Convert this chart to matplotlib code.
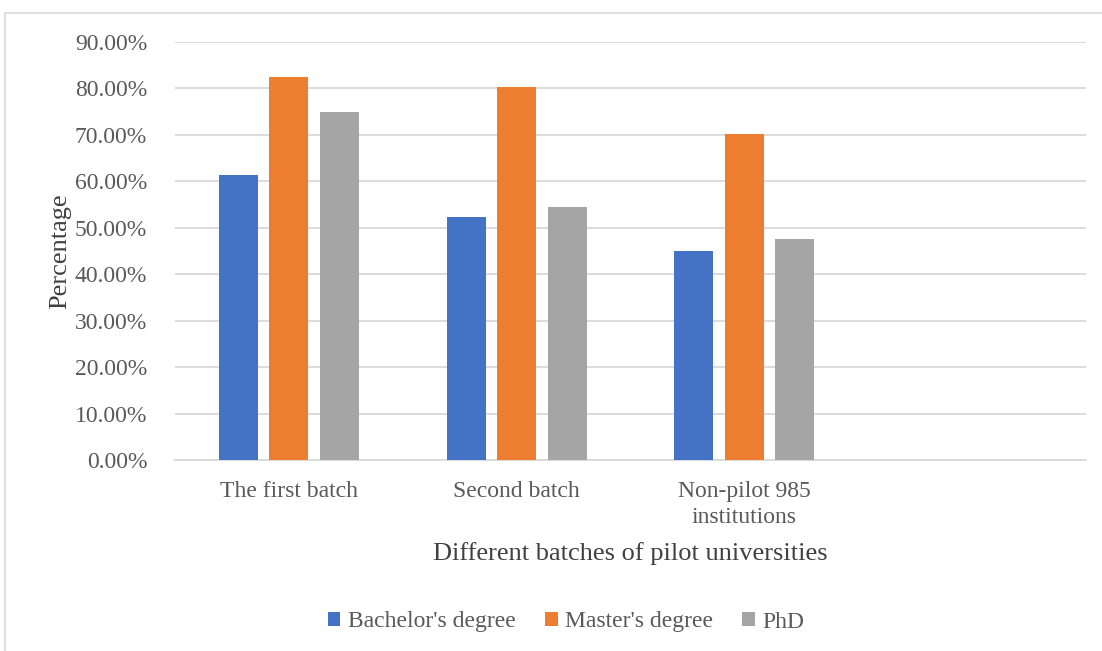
import matplotlib.pyplot as plt
import numpy as np
from matplotlib.lines import Line2D
from matplotlib.ticker import PercentFormatter

categories = ["The first batch", "Second batch", "Non-pilot 985\ninstitutions", ""]
bachelor = [61.3, 52.3, 44.9]
master = [82.5, 80.4, 70.1]
phd = [75.0, 54.4, 47.5]
series = ["Bachelor's degree", "Master's degree", "PhD"]
colors = ["#4472c4", "#ed7d31", "#a5a5a5"]

plt.rcParams['font.family'] = ['Liberation Serif', 'DejaVu Serif']

fig = plt.figure(figsize=(11.02, 6.51), dpi=100)
ax = fig.add_axes([175 / 1102, 191 / 651, (1086 - 175) / 1102, (460 - 42) / 651])

x = np.arange(3)
width = 0.171
step = 0.2215
for k, (name, vals, c) in enumerate(zip(series, [bachelor, master, phd], colors)):
    ax.bar(x + (k - 1) * step, vals, width, color=c, label=name, zorder=3)

ax.set_xlim(-0.5, 3.5)
ax.set_ylim(0, 90)
ax.set_yticks(np.arange(0, 91, 10))
ax.yaxis.set_major_formatter(PercentFormatter(decimals=2))
ax.set_xticks(np.arange(len(categories)))
ax.set_xticklabels(categories, linespacing=1.35)
ax.grid(axis='y', color='#d9d9d9', linewidth=1.3, zorder=0)
for s in ['top', 'right', 'left']:
    ax.spines[s].set_visible(False)
ax.spines['bottom'].set_color('#d9d9d9')
ax.spines['bottom'].set_linewidth(1.3)
ax.tick_params(length=0, labelsize=17, colors='#595959')
ax.tick_params(axis='y', pad=20)
ax.tick_params(axis='x', pad=15)

ax.set_ylabel("Percentage", fontsize=19, color='#404040')
ax.yaxis.set_label_coords((71 - 175) / 911, 0.5)
ax.set_xlabel("Different batches of pilot universities", fontsize=19,
              color='#404040')
ax.xaxis.set_label_coords(0.5, (460 - 542) / 418)

fig.legend(loc='center', bbox_to_anchor=(566 / 1102, 1 - 622 / 651), ncol=3,
           frameon=False, fontsize=17, labelcolor='#595959',
           handlelength=0.55, handleheight=0.55, handletextpad=0.3,
           columnspacing=1.25)

# outer chart border (top and left visible)
fig.add_artist(Line2D([5 / 1102, 5 / 1102], [0, 1 - 13 / 651],
                      transform=fig.transFigure, color='#d9d9d9', lw=1.2))
fig.add_artist(Line2D([5 / 1102, 1], [1 - 13 / 651, 1 - 13 / 651],
                      transform=fig.transFigure, color='#d9d9d9', lw=1.2))

fig.savefig("out.png", dpi=100)
